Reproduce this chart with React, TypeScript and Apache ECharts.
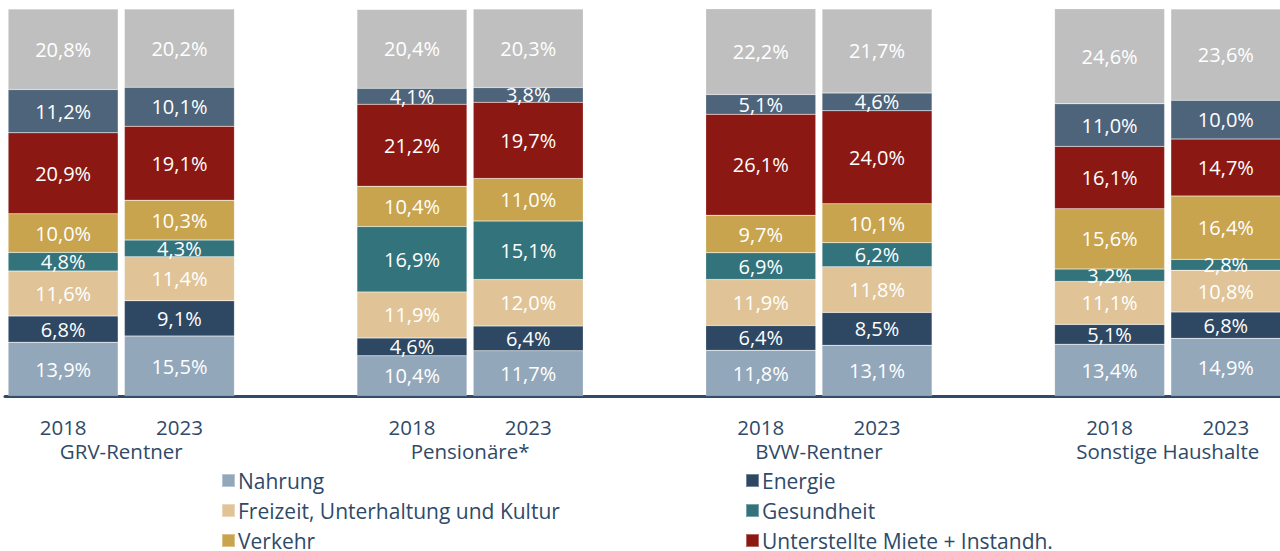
import React, { useEffect, useRef } from "react";
import * as echarts from "echarts";

const categories = ["2018", "2023", "", "2018", "2023", "", "2018", "2023", "", "2018", "2023"];
const groupLabels: Record<number, string> = { 1: "GRV-Rentner", 4: "Pensionäre*", 7: "BVW-Rentner", 10: "Sonstige Haushalte" };

const nahrung = [13.9, 15.5, null, 10.4, 11.7, null, 11.8, 13.1, null, 13.4, 14.9];
const energie = [6.8, 9.1, null, 4.6, 6.4, null, 6.4, 8.5, null, 5.1, 6.8];
const freizeit = [11.6, 11.4, null, 11.9, 12.0, null, 11.9, 11.8, null, 11.1, 10.8];
const gesundheit = [4.8, 4.3, null, 16.9, 15.1, null, 6.9, 6.2, null, 3.2, 2.8];
const verkehr = [10.0, 10.3, null, 10.4, 11.0, null, 9.7, 10.1, null, 15.6, 16.4];
const miete = [20.9, 19.1, null, 21.2, 19.7, null, 26.1, 24.0, null, 16.1, 14.7];
const weitere = [11.2, 10.1, null, 4.1, 3.8, null, 5.1, 4.6, null, 11.0, 10.0];
const sonstiges = [20.8, 20.2, null, 20.4, 20.3, null, 22.2, 21.7, null, 24.6, 23.6];

const legendLeft = ["Nahrung", "Freizeit, Unterhaltung und Kultur", "Verkehr"];
const legendRight = ["Energie", "Gesundheit", "Unterstellte Miete + Instandh."];

const seriesDefs = [
  { name: "Nahrung", data: nahrung, color: "#93a7bb" },
  { name: "Energie", data: energie, color: "#2e4863" },
  { name: "Freizeit, Unterhaltung und Kultur", data: freizeit, color: "#e0c497" },
  { name: "Gesundheit", data: gesundheit, color: "#33737b" },
  { name: "Verkehr", data: verkehr, color: "#c9a44e" },
  { name: "Unterstellte Miete + Instandh.", data: miete, color: "#8b1812" },
  { name: "Weitere Ausgaben", data: weitere, color: "#4e647b" },
  { name: "Sonstiges", data: sonstiges, color: "#bfbfbf" },
];

const FONT = "Open Sans";
const TEXT = "#2f4a68";

export default function App() {
  const ref = useRef<HTMLDivElement>(null);
  useEffect(() => {
    if (!ref.current) return;
    const chart = echarts.init(ref.current, null, { renderer: "svg" });
    const legendCommon = {
      orient: "vertical",
      top: 465,
      height: 120,
      itemWidth: 13,
      itemHeight: 13,
      itemGap: 9,
      icon: "rect",
      textStyle: { color: TEXT, fontSize: 21, fontFamily: FONT, lineHeight: 20, padding: [0, 0, 0, -2] },
    };
    chart.setOption({
      animation: false,
      textStyle: { fontFamily: FONT },
      grid: { left: 5, width: 1279, top: 9, bottom: 155, containLabel: false },
      xAxis: [
        {
          type: "category",
          data: categories,
          axisLine: { lineStyle: { color: "#2e4a66", width: 3 } },
          axisTick: { show: false },
          axisLabel: { color: TEXT, fontSize: 20.5, lineHeight: 20, fontFamily: FONT, margin: 21, interval: 0 },
        },
        {
          type: "value",
          min: 0,
          max: 11,
          interval: 1,
          position: "bottom",
          axisLine: { show: false },
          axisTick: { show: false },
          splitLine: { show: false },
          axisLabel: {
            color: TEXT,
            fontSize: 20.5,
            lineHeight: 20,
            fontFamily: FONT,
            margin: 45,
            showMinLabel: true,
            showMaxLabel: true,
            formatter: (v: number) => groupLabels[v] || "",
          },
        },
      ],
      yAxis: { type: "value", min: 0, max: 100, show: false },
      legend: [
        { ...legendCommon, left: 216, data: legendLeft },
        { ...legendCommon, left: 740, data: legendRight },
      ],
      series: seriesDefs.map((s) => ({
        type: "bar",
        name: s.name,
        stack: "total",
        data: s.data,
        barWidth: 110,
        xAxisIndex: 0,
        itemStyle: { color: s.color, borderColor: "rgba(255,255,255,0.35)", borderWidth: 0.5 },
        label: {
          show: true,
          position: "inside",
          color: "#ffffff",
          fontSize: 20,
          fontFamily: FONT,
          formatter: (p: any) =>
            p.value == null ? "" : Number(p.value).toFixed(1).replace(".", ",") + "%",
        },
      })),
    });
    return () => chart.dispose();
  }, []);
  return (
    <div style={{ position: "absolute", left: 0, top: 0, width: 1280, height: 551, overflow: "hidden" }}>
      <div ref={ref} style={{ width: 1290, height: 551 }} />
    </div>
  );
}
